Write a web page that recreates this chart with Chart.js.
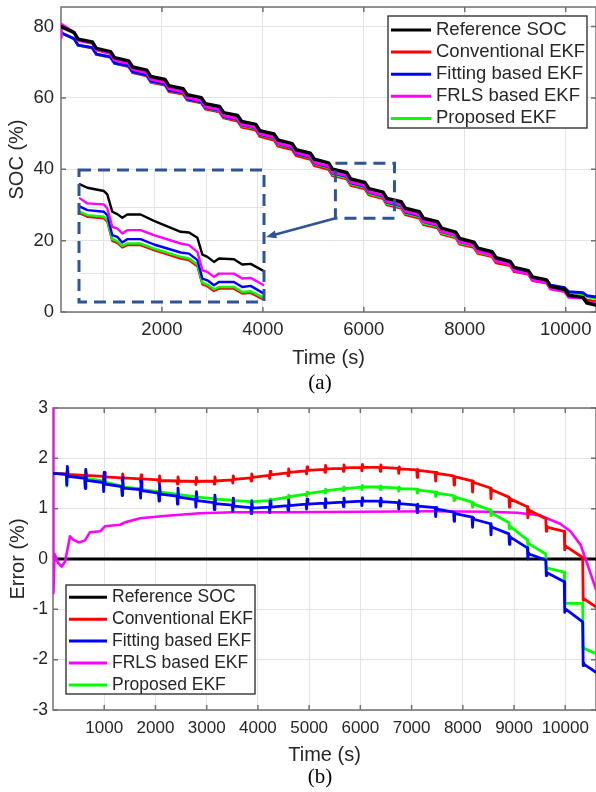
<!DOCTYPE html>
<html>
<head>
<meta charset="utf-8">
<title>SOC estimation</title>
<script src="https://cdn.jsdelivr.net/npm/chart.js@4.4.1/dist/chart.umd.min.js"></script>
<style>
  body { margin: 0; background: #fff; }
  #wrap { position: relative; width: 596px; height: 792px; overflow: hidden; background: #fff; }
  canvas { position: absolute; }
  #socChart { left: 0; top: 0; }
  #insetChart { left: 76px; top: 167px; }
  #errChart { left: 0; top: 392px; }
  .cap { position: absolute; width: 60px; text-align: center; color: #000;
         font: 21px "Liberation Serif", "Times New Roman", serif; line-height: 21px; }
</style>
</head>
<body>
<div id="wrap">
  <canvas id="socChart" width="596" height="370"></canvas>
  <canvas id="insetChart" width="191" height="138"></canvas>
  <canvas id="errChart" width="596" height="376"></canvas>
  <div class="cap" style="left:290px; top:372px">(a)</div>
  <div class="cap" style="left:290px; top:766px">(b)</div>
</div>
<script>
Chart.defaults.font.family = '"Liberation Sans", Arial, Helvetica, sans-serif';
Chart.defaults.color = '#262626';

const labels = ['Reference SOC', 'Conventional EKF', 'Fitting based EKF', 'FRLS based EKF', 'Proposed EKF'];
const colors = ['#000000', '#ff0000', '#0000ff', '#ff00ff', '#00ff00'];

// (a) SOC, time in s
const socXTicks = [2000, 4000, 6000, 8000, 10000];
const socYTicks = [0, 20, 40, 60, 80];
const socTime = [0, 8, 260, 340, 620, 700, 980, 1060, 1340, 1420, 1700, 1780, 2060, 2140, 2420, 2500,
  2780, 2860, 3140, 3220, 3500, 3580, 3860, 3940, 4220, 4300, 4580, 4660, 4940, 5020, 5300, 5380,
  5660, 5740, 6020, 6100, 6380, 6460, 6740, 6820, 7100, 7180, 7460, 7540, 7820, 7900, 8180, 8260,
  8540, 8620, 8900, 8980, 9260, 9340, 9620, 9700, 9980, 10060, 10340, 10420, 10600];
const socRef = [80.0, 80.0, 78.3, 76.5, 75.7, 73.9, 73.0, 71.3, 70.4, 68.7, 67.8, 66.0, 65.2, 63.4, 62.6, 60.9,
  60.1, 58.4, 57.6, 55.9, 55.1, 53.4, 52.6, 50.8, 49.9, 48.2, 47.2, 45.5, 44.5, 42.8, 41.8, 40.0,
  39.1, 37.3, 36.3, 34.6, 33.6, 31.8, 30.9, 29.1, 28.1, 26.3, 25.3, 23.5, 22.4, 20.6, 19.6, 17.9,
  16.9, 15.2, 14.2, 12.5, 11.6, 9.8, 9.0, 7.2, 6.3, 4.7, 4.1, 2.5, 1.95];
const socConv = [78.3, 78.3, 76.6, 74.8, 74.0, 72.2, 71.4, 69.7, 68.8, 67.1, 66.2, 64.4, 63.6, 61.8, 61.1, 59.4,
  58.6, 56.9, 56.1, 54.4, 53.5, 51.8, 51.0, 49.2, 48.2, 46.5, 45.5, 43.8, 42.8, 41.0, 40.0, 38.2,
  37.3, 35.5, 34.5, 32.8, 31.8, 30.0, 29.1, 27.3, 26.3, 24.5, 23.6, 21.8, 20.8, 19.0, 18.1, 16.4,
  15.5, 13.8, 13.0, 11.3, 10.6, 8.8, 8.2, 6.6, 5.8, 4.5, 4.1, 3.3, 2.9];
const socFit = [78.3, 78.3, 76.6, 74.8, 74.1, 72.3, 71.5, 69.8, 69.0, 67.3, 66.4, 64.7, 63.9, 62.1, 61.4, 59.7,
  58.9, 57.3, 56.5, 54.8, 54.0, 52.4, 51.6, 49.8, 48.9, 47.2, 46.1, 44.4, 43.4, 41.7, 40.7, 38.9,
  38.0, 36.2, 35.2, 33.5, 32.5, 30.7, 29.8, 28.0, 27.0, 25.3, 24.3, 22.5, 21.5, 19.7, 18.8, 17.1,
  16.2, 14.6, 13.7, 12.1, 11.4, 9.7, 9.0, 7.5, 6.8, 5.7, 5.4, 4.6, 4.2];
const socFrls = [77.0, 80.7, 78.4, 76.1, 75.3, 73.4, 72.4, 70.6, 69.7, 68.0, 67.0, 65.2, 64.4, 62.6, 61.7, 60.0,
  59.2, 57.5, 56.7, 55.0, 54.2, 52.5, 51.7, 49.9, 49.0, 47.3, 46.3, 44.6, 43.6, 41.9, 40.9, 39.1,
  38.2, 36.4, 35.4, 33.7, 32.7, 30.9, 30.0, 28.2, 27.2, 25.4, 24.4, 22.6, 21.5, 19.7, 18.7, 17.0,
  16.0, 14.3, 13.3, 11.6, 10.7, 8.9, 8.2, 6.4, 5.7, 4.1, 3.9, 2.6, 2.6];
const socProp = [78.3, 78.3, 76.6, 74.8, 74.1, 72.3, 71.5, 69.8, 69.0, 67.3, 66.4, 64.6, 63.9, 62.1, 61.3, 59.6,
  58.9, 57.2, 56.4, 54.7, 53.9, 52.2, 51.5, 49.7, 48.7, 47.0, 46.0, 44.3, 43.2, 41.5, 40.5, 38.6,
  37.7, 35.9, 34.9, 33.2, 32.2, 30.4, 29.5, 27.7, 26.7, 24.9, 24.0, 22.2, 21.1, 19.4, 18.5, 16.8,
  15.9, 14.3, 13.5, 11.9, 11.2, 9.5, 8.9, 7.4, 6.6, 5.6, 5.0, 4.3, 3.8];

// zoomed window of (a)
const insetXTicks = [5600, 5920, 6240, 6560];
const insetYTicks = [29.5, 33.5, 37.5];
const insetTime = [5456, 5502, 5605, 5626, 5657, 5688, 5719, 5750, 5833, 5916, 6082, 6134, 6186, 6217, 6248,
  6289, 6320, 6413, 6465, 6517, 6600];
const insetRef = [40.26, 39.85, 39.45, 39.04, 36.94, 36.65, 36.21, 36.61, 36.61, 35.84, 34.51, 34.43, 33.78,
  31.75, 31.47, 30.86, 31.27, 31.19, 30.54, 30.62, 29.73];
const insetConv = [36.74, 36.33, 36.13, 35.73, 33.42, 33.17, 32.61, 32.89, 32.89, 32.28, 31.27, 31.07, 30.34,
  28.15, 27.91, 27.34, 27.62, 27.62, 27.02, 27.10, 26.29];
const insetFit = [37.55, 37.14, 36.94, 36.53, 34.10, 33.90, 33.21, 33.62, 33.62, 32.97, 32.00, 31.87, 31.07,
  28.84, 28.63, 28.03, 28.43, 28.43, 27.82, 27.95, 27.01];
const insetFrls = [38.56, 37.95, 37.83, 37.34, 35.12, 34.91, 34.31, 34.71, 34.71, 34.10, 33.09, 32.89, 32.08,
  29.85, 29.65, 29.04, 29.44, 29.44, 28.84, 28.92, 28.03];
const insetProp = [36.94, 36.53, 36.33, 35.93, 33.62, 33.37, 32.81, 33.09, 33.09, 32.48, 31.47, 31.27, 30.54,
  28.35, 28.11, 27.54, 27.82, 27.82, 27.22, 27.30, 26.49];

// (b) error, %
const errXTicks = [1000, 2000, 3000, 4000, 5000, 6000, 7000, 8000, 9000, 10000];
const errYTicks = [-3, -2, -1, 0, 1, 2, 3];
const errTime = [0,
  260, 270, 280, 295, 620, 630, 640, 655, 980, 990, 1000, 1015, 1340, 1350, 1360, 1375,
  1700, 1710, 1720, 1735, 2060, 2070, 2080, 2095, 2420, 2430, 2440, 2455, 2780, 2790, 2800, 2815,
  3140, 3150, 3160, 3175, 3500, 3510, 3520, 3535, 3860, 3870, 3880, 3895, 4220, 4230, 4240, 4255,
  4580, 4590, 4600, 4615, 4940, 4950, 4960, 4975, 5300, 5310, 5320, 5335, 5660, 5670, 5680, 5695,
  6020, 6030, 6040, 6055, 6380, 6390, 6400, 6415, 6740, 6750, 6760, 6775, 7100, 7110, 7120, 7135,
  7460, 7470, 7480, 7495, 7820, 7830, 7840, 7855, 8180, 8190, 8200, 8215, 8540, 8550, 8560, 8575,
  8900, 8910, 8920, 8935, 9260, 9270, 9280, 9295, 9620, 9630, 9640, 9655, 9980, 9990, 10000, 10015,
  10340, 10350, 10360, 10375,
  10600];
const convErr = [1.70,
  1.69, 1.63, 1.77, 1.68, 1.66, 1.60, 1.74, 1.66, 1.64, 1.58, 1.72, 1.63, 1.61, 1.55, 1.69, 1.61,
  1.59, 1.53, 1.67, 1.59, 1.57, 1.51, 1.65, 1.56, 1.55, 1.49, 1.63, 1.55, 1.54, 1.48, 1.62, 1.54,
  1.55, 1.49, 1.63, 1.55, 1.57, 1.51, 1.65, 1.58, 1.61, 1.55, 1.69, 1.62, 1.66, 1.60, 1.74, 1.67,
  1.71, 1.65, 1.79, 1.72, 1.75, 1.69, 1.83, 1.76, 1.78, 1.72, 1.86, 1.79, 1.80, 1.74, 1.87, 1.81,
  1.82, 1.75, 1.88, 1.82, 1.82, 1.74, 1.87, 1.82, 1.80, 1.70, 1.83, 1.79, 1.77, 1.62, 1.78, 1.76,
  1.72, 1.55, 1.72, 1.70, 1.65, 1.47, 1.64, 1.63, 1.55, 1.33, 1.53, 1.52, 1.41, 1.20, 1.39, 1.37,
  1.23, 1.03, 1.21, 1.19, 1.04, 0.82, 1.00, 0.97, 0.80, 0.55, 0.66, 0.63, 0.55, 0.18, 0.27, 0.25,
  0.03, -0.82, -0.78, -0.80,
  -0.95];
const fitErr = [1.70,
  1.68, 1.47, 1.84, 1.64, 1.60, 1.40, 1.78, 1.56, 1.52, 1.34, 1.72, 1.49, 1.44, 1.26, 1.62, 1.41,
  1.38, 1.21, 1.55, 1.36, 1.31, 1.15, 1.48, 1.29, 1.25, 1.09, 1.41, 1.23, 1.18, 1.03, 1.34, 1.16,
  1.12, 0.98, 1.27, 1.10, 1.07, 0.94, 1.21, 1.05, 1.02, 0.90, 1.15, 1.01, 1.03, 0.92, 1.15, 1.03,
  1.06, 0.96, 1.17, 1.06, 1.09, 0.99, 1.19, 1.09, 1.11, 1.02, 1.20, 1.11, 1.13, 1.04, 1.21, 1.13,
  1.15, 1.06, 1.22, 1.15, 1.15, 1.05, 1.21, 1.14, 1.12, 0.99, 1.16, 1.10, 1.07, 0.92, 1.09, 1.05,
  1.02, 0.84, 1.02, 0.99, 0.93, 0.75, 0.92, 0.90, 0.83, 0.63, 0.81, 0.79, 0.70, 0.48, 0.66, 0.63,
  0.50, 0.29, 0.45, 0.43, 0.22, 0.00, 0.13, 0.10, -0.02, -0.33, -0.26, -0.28, -0.45, -1.06, -0.99, -1.00,
  -1.25, -2.12, -2.06, -2.10,
  -2.25];
const propErr = [1.70,
  1.68, 1.45, 1.68, 1.65, 1.62, 1.42, 1.63, 1.60, 1.55, 1.37, 1.56, 1.53, 1.45, 1.32, 1.47, 1.43,
  1.40, 1.29, 1.42, 1.38, 1.34, 1.26, 1.36, 1.33, 1.29, 1.23, 1.31, 1.28, 1.24, 1.19, 1.27, 1.23,
  1.20, 1.16, 1.23, 1.19, 1.17, 1.13, 1.20, 1.16, 1.14, 1.10, 1.17, 1.14, 1.16, 1.12, 1.19, 1.17,
  1.23, 1.19, 1.27, 1.24, 1.29, 1.25, 1.33, 1.30, 1.35, 1.31, 1.39, 1.36, 1.40, 1.36, 1.43, 1.40,
  1.43, 1.38, 1.46, 1.43, 1.43, 1.38, 1.45, 1.43, 1.41, 1.35, 1.43, 1.40, 1.39, 1.31, 1.39, 1.37,
  1.33, 1.24, 1.33, 1.31, 1.26, 1.16, 1.25, 1.23, 1.13, 1.03, 1.11, 1.09, 0.97, 0.86, 0.93, 0.91,
  0.72, 0.60, 0.66, 0.64, 0.38, 0.26, 0.32, 0.30, 0.10, -0.20, -0.16, -0.18, -0.26, -0.90, -0.86, -0.88,
  -0.88, -1.79, -1.75, -1.78,
  -1.88];
const frlsTime = [0, 8, 30, 100, 170, 235, 300, 332, 400, 500, 625, 720, 920, 1015, 1310, 1410, 1700,
  2220, 2870, 3520, 4500, 6000, 7400, 8500, 9060, 9500, 9900, 10100, 10300, 10430, 10600];
const frlsErr = [3.0, -0.68, 0.10, -0.08, -0.15, -0.05, 0.28, 0.45, 0.38, 0.33, 0.37, 0.53, 0.55, 0.65, 0.68,
  0.73, 0.81, 0.86, 0.91, 0.93, 0.93, 0.94, 0.95, 0.94, 0.92, 0.87, 0.70, 0.55, 0.28, -0.10, -0.60];
const refErrTime = [0, 10600];
const refErr = [0, 0];

const toPoints = (xs, ys) => xs.map((x, i) => ({ x: x, y: ys[i] }));
const gridColor = '#e3e3e3';
const textColor = '#262626';

// matlab style box with inward ticks
const framePlugin = {
  id: 'frame',
  beforeDatasetsDraw(chart, args, o) {
    const { ctx, chartArea: a, scales: { x, y } } = chart;
    ctx.save();
    ctx.strokeStyle = o.color;
    ctx.lineWidth = o.width;
    ctx.beginPath();
    x.ticks.forEach(t => {
      const px = x.getPixelForValue(t.value);
      ctx.moveTo(px, a.bottom); ctx.lineTo(px, a.bottom - o.tick);
      ctx.moveTo(px, a.top); ctx.lineTo(px, a.top + o.tick);
    });
    y.ticks.forEach(t => {
      const py = y.getPixelForValue(t.value);
      ctx.moveTo(a.left, py); ctx.lineTo(a.left + o.tick, py);
      ctx.moveTo(a.right, py); ctx.lineTo(a.right - o.tick, py);
    });
    ctx.stroke();
    ctx.strokeRect(a.left, a.top, a.right - a.left, a.bottom - a.top);
    ctx.restore();
  }
};

const boxLegendPlugin = {
  id: 'boxLegend',
  afterDraw(chart, args, o) {
    const ctx = chart.ctx;
    ctx.save();
    ctx.fillStyle = '#fff';
    ctx.fillRect(o.x, o.y, o.w, o.h);
    ctx.strokeStyle = textColor;
    ctx.lineWidth = 1.3;
    ctx.strokeRect(o.x, o.y, o.w, o.h);
    ctx.font = o.size + 'px ' + Chart.defaults.font.family;
    ctx.textBaseline = 'middle';
    chart.data.datasets.forEach((ds, i) => {
      const yy = o.y + o.first + i * o.step;
      ctx.strokeStyle = ds.borderColor;
      ctx.lineWidth = 3;
      ctx.beginPath();
      ctx.moveTo(o.x + o.lineFrom, yy);
      ctx.lineTo(o.x + o.lineTo, yy);
      ctx.stroke();
      ctx.fillStyle = textColor;
      ctx.fillText(ds.label, o.x + o.textAt, yy);
    });
    ctx.restore();
  }
};

// dashed window on (a) and the arrow to the inset
const zoomMarkPlugin = {
  id: 'zoomMark',
  afterDatasetsDraw(chart, args, o) {
    const { ctx, scales: { x, y } } = chart;
    const x0 = x.getPixelForValue(o.box[0]), x1 = x.getPixelForValue(o.box[1]);
    const y0 = y.getPixelForValue(o.box[3]), y1 = y.getPixelForValue(o.box[2]);
    ctx.save();
    ctx.strokeStyle = o.color;
    ctx.fillStyle = o.color;
    ctx.lineWidth = o.width;
    ctx.setLineDash(o.dash);
    ctx.strokeRect(x0, y0, x1 - x0, y1 - y0);
    ctx.setLineDash([]);
    const ax = x.getPixelForValue(o.from[0]), ay = y.getPixelForValue(o.from[1]);
    const bx = x.getPixelForValue(o.to[0]), by = y.getPixelForValue(o.to[1]);
    const ang = Math.atan2(by - ay, bx - ax);
    ctx.lineWidth = 2.5;
    ctx.beginPath();
    ctx.moveTo(ax, ay);
    ctx.lineTo(bx - 6 * Math.cos(ang), by - 6 * Math.sin(ang));
    ctx.stroke();
    ctx.beginPath();
    ctx.moveTo(bx, by);
    ctx.lineTo(bx - 11 * Math.cos(ang - 0.38), by - 11 * Math.sin(ang - 0.38));
    ctx.lineTo(bx - 11 * Math.cos(ang + 0.38), by - 11 * Math.sin(ang + 0.38));
    ctx.closePath();
    ctx.fill();
    ctx.restore();
  }
};

const insetBoxPlugin = {
  id: 'insetBox',
  beforeDraw(chart) {
    const { ctx, chartArea: a } = chart;
    ctx.save();
    ctx.fillStyle = '#fff';
    ctx.fillRect(a.left, a.top, a.right - a.left, a.bottom - a.top);
    ctx.restore();
  },
  afterDraw(chart, args, o) {
    const { ctx, chartArea: a } = chart;
    ctx.save();
    ctx.strokeStyle = o.color;
    ctx.lineWidth = o.width;
    ctx.setLineDash(o.dash);
    ctx.strokeRect(a.left, a.top, a.right - a.left, a.bottom - a.top);
    ctx.restore();
  }
};

const line = (label, color, pts, width, order) => ({
  label: label, data: pts, borderColor: color, backgroundColor: color,
  borderWidth: width, order: order, pointRadius: 0, tension: 0, fill: false,
  borderJoinStyle: 'round', borderCapStyle: 'round'
});

const xAxis = (min, max, ticks, height, size, pad, title, titlePad) => ({
  type: 'linear', min: min, max: max,
  afterBuildTicks: s => { s.ticks = ticks.map(v => ({ value: v })); },
  afterFit: s => { s.height = height; s.paddingLeft = 0; s.paddingRight = 0; },
  grid: { color: gridColor, drawTicks: false },
  border: { display: false },
  ticks: { padding: pad, color: textColor, font: { size: size }, maxRotation: 0, autoSkip: false, callback: v => String(v) },
  title: { display: true, text: title, color: textColor, font: { size: 20 }, padding: { top: 0, bottom: titlePad } }
});

const yAxis = (min, max, ticks, width, size, pad, title, titlePad) => ({
  type: 'linear', min: min, max: max,
  afterBuildTicks: s => { s.ticks = ticks.map(v => ({ value: v })); },
  afterFit: s => { s.width = width; s.paddingTop = 0; s.paddingBottom = 0; },
  grid: { color: gridColor, drawTicks: false },
  border: { display: false },
  ticks: { padding: pad, color: textColor, font: { size: size }, autoSkip: false, callback: v => String(v) },
  title: { display: true, text: title, color: textColor, font: { size: 20 }, padding: { top: titlePad, bottom: 0 } }
});

const socChart = new Chart(document.getElementById('socChart'), {
  type: 'line',
  data: {
    datasets: [
      line(labels[0], colors[0], toPoints(socTime, socRef), 3.5, 0),
      line(labels[1], colors[1], toPoints(socTime, socConv), 2.8, 4),
      line(labels[2], colors[2], toPoints(socTime, socFit), 2.8, 2),
      line(labels[3], colors[3], toPoints(socTime, socFrls), 2.8, 1),
      line(labels[4], colors[4], toPoints(socTime, socProp), 2.8, 3)
    ]
  },
  options: {
    responsive: false, animation: false, events: [],
    layout: { padding: { top: 7, right: 0, bottom: 0, left: 0 } },
    plugins: {
      legend: { display: false },
      tooltip: { enabled: false },
      frame: { color: '#707070', width: 1.5, tick: 5 },
      boxLegend: { x: 388, y: 16, w: 199, h: 112, first: 14, step: 22.1, lineFrom: 3, lineTo: 43, textAt: 48, size: 18.5 },
      zoomMark: { box: [5437, 6607, 26.3, 41.7], from: [5437, 26.3], to: [4062, 21.0], color: '#2f5496', width: 3, dash: [12, 7] }
    },
    scales: {
      x: xAxis(0, 10600, socXTicks, 58, 18.5, 7, 'Time (s)', 0),
      y: yAxis(0, 85.5, socYTicks, 61, 18.5, 7, 'SOC (%)', 5)
    }
  },
  plugins: [framePlugin, zoomMarkPlugin, boxLegendPlugin]
});

const insetChart = new Chart(document.getElementById('insetChart'), {
  type: 'line',
  data: {
    datasets: [
      line(labels[0], colors[0], toPoints(insetTime, insetRef), 2.4, 0),
      line(labels[1], colors[1], toPoints(insetTime, insetConv), 2.4, 4),
      line(labels[2], colors[2], toPoints(insetTime, insetFit), 2.4, 2),
      line(labels[3], colors[3], toPoints(insetTime, insetFrls), 2.4, 1),
      line(labels[4], colors[4], toPoints(insetTime, insetProp), 2.4, 3)
    ]
  },
  options: {
    responsive: false, animation: false, events: [],
    layout: { padding: 3 },
    plugins: {
      legend: { display: false },
      tooltip: { enabled: false },
      insetBox: { color: '#2f5496', width: 3, dash: [12, 7] }
    },
    scales: {
      x: {
        type: 'linear', min: 5450, max: 6600,
        afterBuildTicks: s => { s.ticks = insetXTicks.map(v => ({ value: v })); },
        afterFit: s => { s.height = 0; s.paddingLeft = 0; s.paddingRight = 0; },
        grid: { color: gridColor, drawTicks: false }, border: { display: false }, ticks: { display: false }
      },
      y: {
        type: 'linear', min: 26, max: 42,
        afterBuildTicks: s => { s.ticks = insetYTicks.map(v => ({ value: v })); },
        afterFit: s => { s.width = 0; s.paddingTop = 0; s.paddingBottom = 0; },
        grid: { color: gridColor, drawTicks: false }, border: { display: false }, ticks: { display: false }
      }
    }
  },
  plugins: [insetBoxPlugin]
});

const errChart = new Chart(document.getElementById('errChart'), {
  type: 'line',
  data: {
    datasets: [
      line(labels[0], colors[0], toPoints(refErrTime, refErr), 3.2, 4),
      line(labels[1], colors[1], toPoints(errTime, convErr), 2.8, 1),
      line(labels[2], colors[2], toPoints(errTime, fitErr), 2.8, 0),
      line(labels[3], colors[3], toPoints(frlsTime, frlsErr), 2.6, 3),
      line(labels[4], colors[4], toPoints(errTime, propErr), 2.8, 2)
    ]
  },
  options: {
    responsive: false, animation: false, events: [],
    layout: { padding: { top: 16, right: 0, bottom: 0, left: 0 } },
    plugins: {
      legend: { display: false },
      tooltip: { enabled: false },
      frame: { color: '#707070', width: 1.5, tick: 5 },
      boxLegend: { x: 66, y: 193, w: 189, h: 109, first: 12.3, step: 21.9, lineFrom: 3, lineTo: 41, textAt: 46, size: 17.5 }
    },
    scales: {
      x: xAxis(0, 10600, errXTicks, 58, 17, 8, 'Time (s)', 1),
      y: yAxis(-3, 3, errYTicks, 53, 17.5, 5, 'Error (%)', 6)
    }
  },
  plugins: [framePlugin, boxLegendPlugin]
});
</script>
</body>
</html>
